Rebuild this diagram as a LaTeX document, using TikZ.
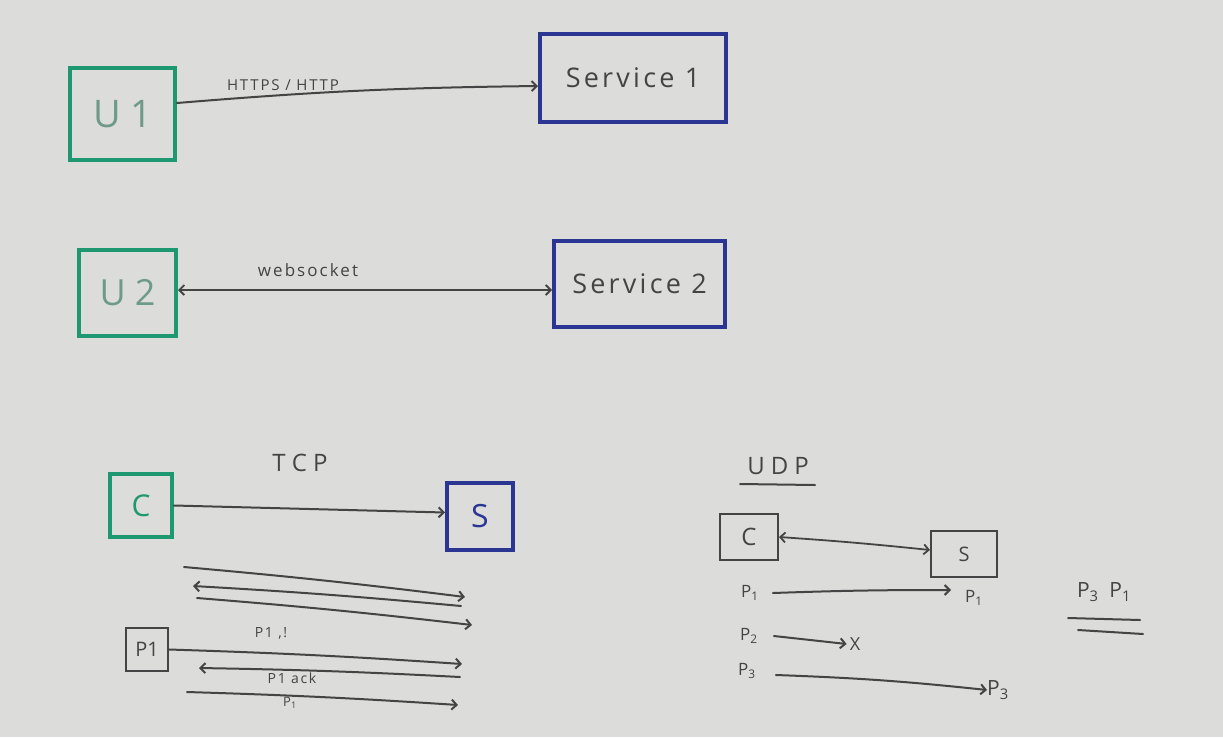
\documentclass[tikz,border=0pt]{standalone}
\usepackage{fontspec}
\setmainfont{Open Sans}
\newfontfamily\wide[LetterSpace=12]{Open Sans}
\newfontfamily\wider[LetterSpace=25]{Open Sans}
\usetikzlibrary{arrows.meta}
\definecolor{board}{HTML}{DCDCDA}
\definecolor{mgreen}{HTML}{1E9870}
\definecolor{mblue}{HTML}{2A3692}
\definecolor{ink}{HTML}{444444}
\definecolor{pale}{HTML}{6E9A88}
\newcommand{\Psub}[1]{P\textsubscript{#1}}
\begin{document}
\begin{tikzpicture}[x=1pt,y=-1pt,
  gbox/.style={draw=mgreen, line width=4pt, inner sep=0pt},
  bbox/.style={draw=mblue, line width=4pt, inner sep=0pt},
  kbox/.style={draw=ink, line width=2pt, inner sep=0pt},
  wire/.style={draw=ink, line width=2pt, line cap=round, -{Straight Barb[length=5pt,width=10pt]}},
  dwire/.style={draw=ink, line width=1.8pt, line cap=round, {Straight Barb[length=5pt,width=10pt]}-{Straight Barb[length=5pt,width=10pt]}},
  lwire/.style={draw=ink, line width=2pt, line cap=round, {Straight Barb[length=5pt,width=10pt]}-},
  plain/.style={draw=ink, line width=2pt, line cap=round},
  lbl/.style={text=ink, inner sep=0pt}
]
\fill[board] (0,0) rectangle (1223,737);
\useasboundingbox (0,0) rectangle (1223,737);

% top: U1 -> Service 1
\node[gbox, minimum width=105pt, minimum height=92pt, text=pale, font=\wider\fontsize{38}{40}\selectfont] (u1) at (122.5,114) {U1};
\node[bbox, minimum width=186pt, minimum height=88pt, text=ink, font=\wide\fontsize{27}{30}\selectfont] (s1) at (633,78) {Service 1};
\draw[wire] ([yshift=11pt]u1.east) to[bend left=2] ([yshift=-8pt]s1.west);
\node[lbl, font=\wide\fontsize{15}{17}\selectfont] (l1) at (283,85) {HTTPS / HTTP};

% U2 <-> Service 2
\node[gbox, minimum width=97pt, minimum height=86pt, text=pale, font=\wider\fontsize{36}{40}\selectfont] (u2) at (127.5,293) {U2};
\node[bbox, minimum width=171pt, minimum height=86pt, text=ink, font=\wide\fontsize{27}{30}\selectfont] (s2) at (639.5,284) {Service 2};
\draw[dwire] ([yshift=3pt]u2.east) -- ([yshift=-6pt]s2.west);
\node[lbl, font=\wide\fontsize{17}{19}\selectfont] (l2) at (308,270) {websocket};

% TCP
\node[lbl, font=\fontsize{24}{26}\selectfont] (tcp) at (300,463) {T C P};
\node[gbox, minimum width=62pt, minimum height=63pt, text=mgreen, font=\fontsize{30}{32}\selectfont] (c) at (141,505.5) {C};
\node[bbox, minimum width=66pt, minimum height=67pt, text=mblue, font=\fontsize{32}{34}\selectfont] (s) at (480,516.5) {S};
\draw[wire] (c.east) -- ([yshift=4pt]s.west);

\coordinate (t1a) at (184,567); \coordinate (t1b) at (465,597);
\coordinate (t2a) at (193,586); \coordinate (t2b) at (461,606);
\coordinate (t3a) at (197,598); \coordinate (t3b) at (472,625);
\draw[wire] (t1a) to[bend left=1] (t1b);
\draw[lwire] (t2a) to[bend left=1] (t2b);
\draw[wire] (t3a) to[bend left=1] (t3b);

\node[kbox, minimum width=42pt, minimum height=43pt, text=ink, font=\fontsize{20}{22}\selectfont] (p1box) at (147,649.5) {P1};
\coordinate (t4b) at (462,664);
\coordinate (t5a) at (199,668); \coordinate (t5b) at (460,677);
\coordinate (t6a) at (187,692); \coordinate (t6b) at (458,705);
\draw[wire] (p1box.east) to[bend left=1] (t4b);
\draw[lwire] (t5a) to[bend left=1] (t5b);
\draw[wire] (t6a) to[bend left=1] (t6b);
\node[lbl, font=\wide\fontsize{14}{16}\selectfont] (l4) at (271,633) {P1 ,!};
\node[lbl, font=\wide\fontsize{14}{16}\selectfont] (l5) at (292,678) {P1 ack};
\node[lbl, font=\fontsize{13}{15}\selectfont] (l6) at (290,703) {\Psub{1}};

% UDP
\node[lbl, font=\wider\fontsize{24}{26}\selectfont] (udp) at (778,466) {UDP};
\draw[plain] (740,484) -- (815,485);
\node[kbox, minimum width=58pt, minimum height=46pt, text=ink, font=\fontsize{24}{26}\selectfont] (uc) at (749,537) {C};
\node[kbox, minimum width=66pt, minimum height=46pt, text=ink, font=\fontsize{20}{22}\selectfont] (us) at (964,554) {S};
\draw[dwire] (uc.east) to[bend left=1] ([yshift=4pt]us.west);

\node[lbl, font=\fontsize{17}{19}\selectfont] (p1a) at (750,593) {\Psub{1}};
\node[lbl, font=\fontsize{17}{19}\selectfont] (p1c) at (974,598) {\Psub{1}};
\draw[wire] ([xshift=14pt]p1a.east) to[bend left=1] ([xshift=-14pt,yshift=8pt]p1c.west);

\node[lbl, font=\fontsize{17}{19}\selectfont] (p2a) at (749,636) {\Psub{2}};
\node[lbl, font=\fontsize{18}{20}\selectfont] (x) at (855,644) {X};
\draw[wire] ([xshift=16pt]p2a.east) -- ([xshift=-3pt]x.west);

\node[lbl, font=\fontsize{17}{19}\selectfont] (p3a) at (747,671) {\Psub{3}};
\node[lbl, font=\fontsize{21}{23}\selectfont] (p3c) at (998,690) {\Psub{3}};
\draw[wire] ([xshift=20pt,yshift=-4pt]p3a.east) to[bend left=2] (p3c.west);

% right note
\node[lbl, font=\fontsize{21}{23}\selectfont] (note) at (1104,592) {\Psub{3}\ \ \Psub{1}};
\draw[plain] (1068,618) -- (1140,620);
\draw[plain] (1078,630) -- (1143,634);
\end{tikzpicture}
\end{document}
